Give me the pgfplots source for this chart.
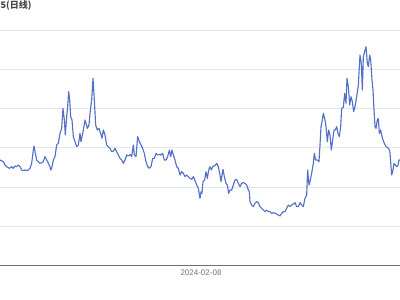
\documentclass[border=0pt]{standalone}
\usepackage{pgfplots}
\pgfplotsset{compat=1.18}
\usepackage{pgfplotstable}
\usepackage{fontspec}
\setmainfont{Liberation Sans}
\newfontfamily\cjk{Noto Sans CJK SC}
\definecolor{ecline}{HTML}{5470C6}
\definecolor{ecgrid}{HTML}{E0E6F1}
\definecolor{ecaxis}{HTML}{6E7079}
\definecolor{ectitle}{HTML}{464646}
% first half of the series (x: 0..200 px, y read in 3x zoom units)
\pgfplotstableread{
x y
0 420
10 425
15 435
20 440
28 445
35 440
40 445
45 438
50 440
55 435
60 440
65 450
70 452
75 450
80 452
85 450
90 445
95 430
100 390
102 378
105 395
110 420
115 425
120 430
125 428
130 425
135 410
140 420
145 430
150 440
152 450
155 445
160 420
165 410
170 375
175 370
180 340
185 325
189 265
193 300
196 345
200 290
203 260
206 215
209 240
212 290
216 300
220 350
225 365
230 380
235 375
240 340
243 365
247 345
250 330
255 300
258 310
262 325
267 315
270 280
275 240
279 175
283 240
287 315
292 330
297 325
302 340
306 355
310 330
315 345
320 375
325 380
330 385
335 395
340 393
345 385
350 395
355 405
360 415
365 420
370 430
375 420
380 405
385 408
390 403
395 410
400 375
403 405
408 410
413 350
418 365
423 375
428 385
433 400
438 425
443 440
448 445
453 440
458 415
463 415
468 400
473 405
478 403
483 405
488 400
493 420
498 420
503 410
508 390
512 410
516 390
520 405
525 420
530 440
535 445
540 465
545 455
550 460
555 470
560 465
565 470
570 475
575 478
580 470
585 482
590 495
595 505
600 535
}\dataA
% second half (x: 200..400 px)
\pgfplotstableread{
x y
0 535
3 515
6 520
9 485
14 480
18 455
22 475
26 450
30 440
34 450
38 440
42 438
46 435
50 430
55 440
60 465
63 485
66 465
69 448
73 470
78 490
82 495
86 520
90 510
95 510
100 495
105 480
110 478
115 490
120 500
125 490
130 488
135 490
140 495
145 510
148 515
150 545
155 555
160 560
165 550
170 545
175 548
180 560
185 565
190 570
195 575
200 570
205 575
210 575
215 580
220 578
225 580
230 582
235 585
240 588
245 580
250 575
255 575
260 565
265 555
270 560
275 555
280 552
285 548
290 560
295 560
300 548
305 555
310 560
315 535
320 525
323 450
327 495
330 485
335 460
340 430
343 400
347 420
352 420
357 425
360 375
363 320
367 300
370 280
374 295
378 320
382 365
386 330
390 345
394 390
398 360
402 330
406 330
410 320
414 340
418 350
422 320
425 265
430 262
434 220
438 250
441 175
445 200
449 255
453 230
457 245
461 275
465 260
470 230
475 195
480 105
484 130
487 210
490 110
494 95
498 80
502 130
505 140
509 105
512 120
516 180
519 210
522 270
525 320
528 325
532 300
535 295
538 340
542 330
545 345
549 360
553 370
557 378
561 382
566 385
570 398
573 440
575 465
578 455
582 430
586 435
590 440
594 435
597 420
600 420
}\dataB
\begin{document}
\begin{tikzpicture}
\begin{axis}[
  name=ax, at={(0,0)}, anchor=south west,
  scale only axis, width=300pt, height=199.125pt,
  xmin=0, xmax=400, ymin=0, ymax=6.773,
  axis lines*=left,
  x axis line style={-, draw=ecaxis, line width=0.75pt},
  y axis line style={-, draw=none},
  xtick={201}, xticklabels={2024-02-08},
  xticklabel style={font=\fontsize{6}{7}\selectfont, text=ecaxis},
  ytick={1,2,3,4,5,6}, yticklabels={},
  ymajorgrids, grid style={draw=ecgrid, line width=0.75pt},
  major tick length=0pt,
  clip=true,
]
\addplot[ecline, line width=0.85pt, line join=round, x filter/.expression={x/3}, y filter/.expression={(245.5-y/3)/39.2}] table[x=x,y=y] {\dataA};
\addplot[ecline, line width=0.85pt, line join=round, x filter/.expression={x/3+200}, y filter/.expression={(245.5-y/3)/39.2}] table[x=x,y=y] {\dataB};
\node[anchor=west, inner sep=0pt, text=ectitle, font=\cjk\bfseries\fontsize{6.8}{8}\selectfont] at (axis cs:0.4,6.63) {5(日线)};
\end{axis}
\pgfresetboundingbox
\useasboundingbox (0,-25.875pt) rectangle (300pt,199.125pt);
\end{tikzpicture}
\end{document}
